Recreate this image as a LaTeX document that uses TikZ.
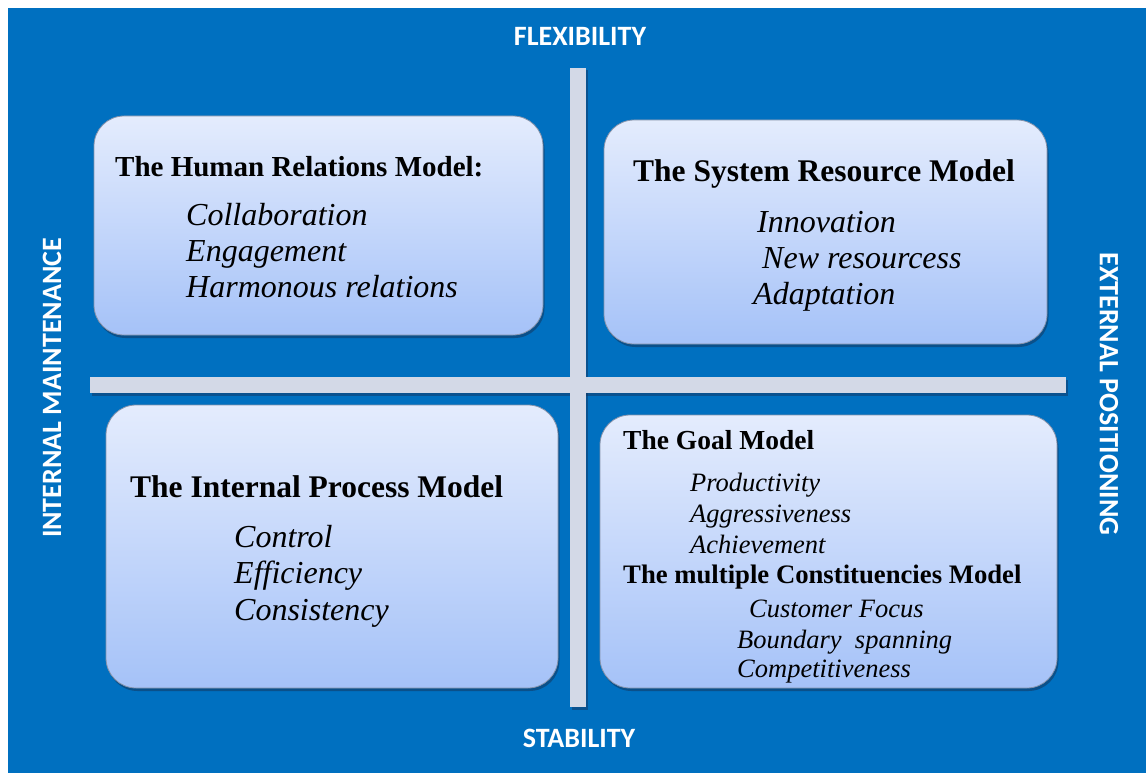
\documentclass[tikz,border=0pt]{standalone}
\usepackage{fontspec}
\setmainfont{Liberation Serif}
\newfontfamily\labelfont{Carlito}
\usetikzlibrary{shadows}
\definecolor{bgblue}{HTML}{0070C0}
\definecolor{barcol}{HTML}{D3D9E7}
\definecolor{boxtop}{HTML}{E4ECFD}
\definecolor{boxbot}{HTML}{A5C2F8}
\definecolor{boxedge}{HTML}{8592AA}
\definecolor{shadowcol}{HTML}{14365F}
\begin{document}
\begin{tikzpicture}[x=1pt,y=-1pt,
  quad/.style={draw=boxedge, line width=0.8pt, rounded corners=30pt,
    top color=boxtop, bottom color=boxbot, inner sep=0pt,
    drop shadow={shadow xshift=1.5pt, shadow yshift=-3pt, opacity=0.55, fill=shadowcol}},
  bar/.style={fill=barcol, draw=none, inner sep=0pt},
  barshadow/.style={fill=shadowcol, opacity=0.5, draw=none, inner sep=0pt},
  axislabel/.style={text=white, inner sep=0pt, font=\labelfont\bfseries\fontsize{28}{32}\selectfont},
  headA/.style={anchor=base west, inner sep=0pt, font=\bfseries\fontsize{31.5}{36}\selectfont},
  headB/.style={anchor=base west, inner sep=0pt, font=\bfseries\fontsize{27.5}{32}\selectfont},
  itemA/.style={anchor=base west, inner sep=0pt, font=\itshape\fontsize{32}{36}\selectfont},
  itemB/.style={anchor=base west, inner sep=0pt, font=\itshape\fontsize{26.5}{30}\selectfont}
]
\useasboundingbox (0,0) rectangle (1146,773);
\fill[white] (0,0) rectangle (1146,773);
\fill[bgblue] (8,8) rectangle (1146,773);

% bars
\node[barshadow, minimum width=16pt, minimum height=639pt] (vbs) at (580,390) {};
\node[barshadow, minimum width=976pt, minimum height=16pt] (hbs) at (580,388) {};
\node[bar, minimum width=16pt, minimum height=639pt] (vbar) at (578,387.5) {};
\node[bar, minimum width=976pt, minimum height=16pt] (hbar) at (578,385) {};

% quadrants
\node[quad, minimum width=449pt, minimum height=219pt] (hr) at (318.5,225.5) {};
\node[quad, minimum width=443pt, minimum height=224pt] (sr) at (825.5,232) {};
\node[quad, minimum width=452pt, minimum height=283pt] (ip) at (332,546.5) {};
\node[quad, minimum width=457pt, minimum height=273pt] (gm) at (828.5,551.5) {};

% top left
\node[headA, font=\bfseries\fontsize{29}{34}\selectfont] (hrt) at (115,176) {The Human Relations Model:};
\node[itemA] (hr1) at (186,225) {Collaboration};
\node[itemA] (hr2) at (186,261) {Engagement};
\node[itemA] (hr3) at (186,297) {Harmonous relations};

% top right
\node[headA] (srt) at (633,182) {The System Resource Model};
\node[itemA] (sr1) at (757,232) {Innovation};
\node[itemA] (sr2) at (762,268) {New resourcess};
\node[itemA] (sr3) at (753,304) {Adaptation};

% bottom left
\node[headA] (ipt) at (130,497) {The Internal Process Model};
\node[itemA] (ip1) at (234,547) {Control};
\node[itemA] (ip2) at (234,583) {Efficiency};
\node[itemA] (ip3) at (234,620) {Consistency};

% bottom right
\node[headB] (gmt) at (623,449) {The Goal Model};
\node[itemB] (gm1) at (690,491) {Productivity};
\node[itemB] (gm2) at (690,522) {Aggressiveness};
\node[itemB] (gm3) at (690,553) {Achievement};
\node[headB, font=\bfseries\fontsize{26.7}{32}\selectfont] (mct) at (623,583) {The multiple Constituencies Model};
\node[itemB] (mc1) at (749,617) {Customer Focus};
\node[itemB] (mc2) at (737,648) {Boundary\ \ spanning};
\node[itemB] (mc3) at (737,677) {Competitiveness};

% axis labels
\node[axislabel] (flex) at (580,36.5) {FLEXIBILITY};
\node[axislabel] (stab) at (579,738.5) {STABILITY};
\node[axislabel, rotate=90] (intm) at (52,388) {INTERNAL MAINTENANCE};
\node[axislabel, rotate=-90] (extp) at (1109,394) {EXTERNAL POSITIONING};
\end{tikzpicture}
\end{document}
